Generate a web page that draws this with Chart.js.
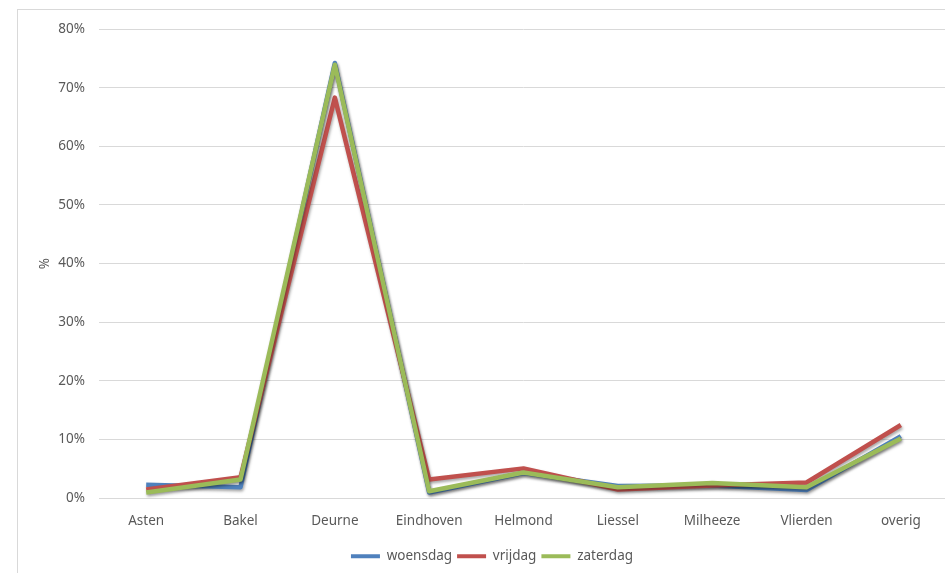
<!DOCTYPE html>
<html>
<head>
<meta charset="utf-8">
<script src="https://cdn.jsdelivr.net/npm/chart.js@4/dist/chart.umd.min.js"></script>
<style>
  html, body { margin: 0; padding: 0; background: #fff; overflow: hidden; }
  #frame { position: absolute; left: 17px; top: 9px; width: 960px; height: 600px; border: 1px solid #d9d9d9; }
  #wrap { position: absolute; left: 0; top: 0; width: 948px; height: 573px; }
</style>
</head>
<body>
<div id="frame"></div>
<div id="wrap"><canvas id="lineChart"></canvas></div>
<script>
// categories and values (percent)
var plaatsen = ["Asten", "Bakel", "Deurne", "Eindhoven", "Helmond", "Liessel", "Milheeze", "Vlierden", "overig"];
var woensdag = [2.3, 1.9, 74.2, 1.0, 4.3, 2.1, 2.2, 1.4, 10.6];
var vrijdag = [1.5, 3.6, 68.3, 3.2, 5.1, 1.5, 2.2, 2.7, 12.5];
var zaterdag = [1.0, 3.2, 73.9, 1.2, 4.4, 1.9, 2.6, 1.9, 10.2];
var yTicks = [0, 10, 20, 30, 40, 50, 60, 70, 80];

var fontFam = "'Noto Sans', sans-serif";
var grey = "#595959";

// soft shadow under the lines, like the excel original
var shadowPlugin = {
    id: "shadow",
    afterLayout: function(chart) {
        // legend sits a bit right of the canvas centre in the original
        if (chart.legend) chart.legend.left += 36;
    },
    beforeDatasetsDraw: function(chart) {
        var ctx = chart.ctx;
        ctx.save();
        ctx.shadowColor = "rgba(0,0,0,0.35)";
        ctx.shadowBlur = 3;
        ctx.shadowOffsetX = 1;
        ctx.shadowOffsetY = 2;
    },
    afterDatasetsDraw: function(chart) {
        chart.ctx.restore();
    }
};

function serie(label, data, color, order) {
    return {
        label: label,
        data: data,
        borderColor: color,
        backgroundColor: color,
        borderWidth: 4.5,
        tension: 0,
        fill: false,
        pointRadius: 0,
        pointHoverRadius: 0,
        borderJoinStyle: "round",
        order: order
    };
}

var chartData = {
    labels: plaatsen,
    datasets: [
        serie("woensdag", woensdag, "#4F81BD", 3),
        serie("vrijdag", vrijdag, "#C0504D", 2),
        serie("zaterdag", zaterdag, "#9BBB59", 1)
    ]
};

var chartOptions = {
    responsive: true,
    maintainAspectRatio: false,
    animation: false,
    layout: { padding: { top: 29, left: 0, right: 0, bottom: 0 } },
    plugins: {
        tooltip: { enabled: false },
        legend: {
            display: true,
            position: "bottom",
            labels: {
                color: grey,
                font: { family: fontFam, size: 13.5 },
                boxWidth: 29,
                boxHeight: 4,
                padding: 5,
                sort: function(a, b) { return a.datasetIndex - b.datasetIndex; },
                generateLabels: function(chart) {
                    var items = Chart.defaults.plugins.legend.labels.generateLabels(chart);
                    items.forEach(function(it) { it.lineWidth = 0; });
                    return items;
                }
            }
        }
    },
    scales: {
        x: {
            offset: true,
            grid: { display: false, drawTicks: false },
            border: { display: true, color: "#d9d9d9", width: 1 },
            ticks: { color: grey, font: { family: fontFam, size: 13.5 }, padding: 15, maxRotation: 0 }
        },
        y: {
            min: 0,
            max: 80,
            afterBuildTicks: function(scale) {
                scale.ticks = yTicks.map(function(v) { return { value: v }; });
            },
            afterFit: function(scale) { scale.width = 99; },
            grid: { color: "#d9d9d9", drawTicks: false },
            border: { display: false },
            ticks: {
                color: grey,
                font: { family: fontFam, size: 13.5 },
                padding: 14,
                callback: function(v) { return v + "%"; }
            },
            title: {
                display: true,
                text: "%",
                color: grey,
                font: { family: fontFam, size: 13.5 },
                padding: { top: 37, bottom: 0 }
            }
        }
    }
};

var lineChart = new Chart(document.getElementById("lineChart"), {
    type: "line",
    data: chartData,
    options: chartOptions,
    plugins: [shadowPlugin]
});
</script>
</body>
</html>
